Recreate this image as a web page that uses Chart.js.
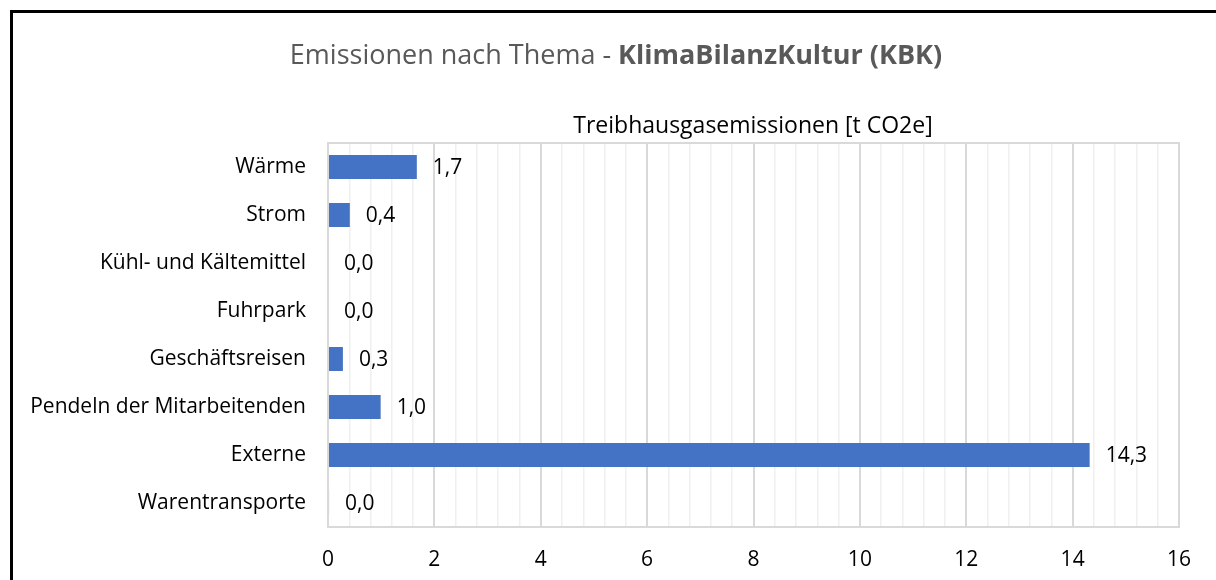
<!DOCTYPE html>
<html>
<head>
<meta charset="utf-8">
<script src="https://cdn.jsdelivr.net/npm/chart.js@4"></script>
<style>
    html, body { margin: 0; padding: 0; background: #fff; }
    #wrap { position: relative; width: 1216px; height: 580px; }
</style>
</head>
<body>
<div id="wrap"><canvas id="kbkChart"></canvas></div>
<script>
const categories = ['Wärme', 'Strom', 'Kühl- und Kältemittel', 'Fuhrpark', 'Geschäftsreisen', 'Pendeln der Mitarbeitenden', 'Externe', 'Warentransporte'];
const emissions = [1.67, 0.41, 0, 0, 0.28, 0.99, 14.32, 0.02];
const xTicks = [0, 2, 4, 6, 8, 10, 12, 14, 16];

const TITLE_NORMAL = 'Emissionen nach Thema - ';
const TITLE_BOLD = 'KlimaBilanzKultur (KBK)';
const AXIS_TITLE = 'Treibhausgasemissionen [t CO2e]';
const FONT = '"Open Sans"';

Chart.defaults.font.family = FONT;
Chart.defaults.color = '#000';

function isMajor(v) {
    return xTicks.some((t) => Math.abs(t - v) < 1e-6);
}

function fmt(v) {
    return v.toFixed(1).replace('.', ',');
}

const decorPlugin = {
    id: 'decor',
    beforeDraw(chart) {
        const ctx = chart.ctx;
        ctx.save();
        ctx.fillStyle = '#000';
        ctx.fillRect(10, 10, chart.width - 10, 3);
        ctx.fillRect(10, 10, 3, chart.height - 10);
        ctx.restore();
    },
    afterDraw(chart) {
        const ctx = chart.ctx;
        const area = chart.chartArea;
        ctx.save();

        // plot frame
        ctx.strokeStyle = '#d9d9d9';
        ctx.lineWidth = 2;
        ctx.strokeRect(area.left, area.top, area.right - area.left, area.bottom - area.top);

        // main title, mixed weight
        ctx.fillStyle = '#595959';
        ctx.textBaseline = 'middle';
        ctx.font = '27px ' + FONT;
        const w1 = ctx.measureText(TITLE_NORMAL).width;
        ctx.font = 'bold 27px ' + FONT;
        const w2 = ctx.measureText(TITLE_BOLD).width;
        const x0 = 616 - (w1 + w2) / 2;
        ctx.font = '27px ' + FONT;
        ctx.textAlign = 'left';
        ctx.fillText(TITLE_NORMAL, x0, 56);
        ctx.font = 'bold 27px ' + FONT;
        ctx.fillText(TITLE_BOLD, x0 + w1, 56);

        // axis title above the plot
        ctx.fillStyle = '#000';
        ctx.font = '23px ' + FONT;
        ctx.textAlign = 'center';
        ctx.fillText(AXIS_TITLE, 753, 126);

        // value labels
        const meta = chart.getDatasetMeta(0);
        ctx.font = '21px ' + FONT;
        ctx.textAlign = 'left';
        meta.data.forEach((bar, i) => {
            ctx.fillText(fmt(emissions[i]), bar.x + 16, bar.y + 1);
        });
        ctx.restore();
    }
};

new Chart(document.getElementById('kbkChart'), {
    type: 'bar',
    data: {
        labels: categories,
        datasets: [{
            data: emissions,
            backgroundColor: '#4472c4',
            borderWidth: 0,
            categoryPercentage: 1,
            barPercentage: 0.5
        }]
    },
    options: {
        indexAxis: 'y',
        responsive: true,
        maintainAspectRatio: false,
        animation: false,
        layout: { padding: { top: 143, right: 37, bottom: 0, left: 0 } },
        plugins: {
            legend: { display: false },
            tooltip: { enabled: false }
        },
        scales: {
            x: {
                min: 0,
                max: 16,
                afterFit(scale) { scale.height = 53; },
                ticks: {
                    stepSize: 0.4,
                    autoSkip: false,
                    maxRotation: 0,
                    padding: 20,
                    font: { size: 21 },
                    color: '#000',
                    callback: (v) => (isMajor(v) ? String(Math.round(v)) : '')
                },
                grid: {
                    drawTicks: false,
                    lineWidth: (c) => (isMajor(c.tick.value) ? 2 : 1.5),
                    color: (c) => (isMajor(c.tick.value) ? '#d9d9d9' : '#f0f0f0')
                },
                border: { color: '#d9d9d9', width: 2 }
            },
            y: {
                afterFit(scale) { scale.width = 328; },
                ticks: {
                    padding: 22,
                    font: { size: 21 },
                    color: '#000'
                },
                grid: { display: false, drawTicks: false },
                border: { color: '#d9d9d9', width: 2 }
            }
        }
    },
    plugins: [decorPlugin]
});
</script>
</body>
</html>
